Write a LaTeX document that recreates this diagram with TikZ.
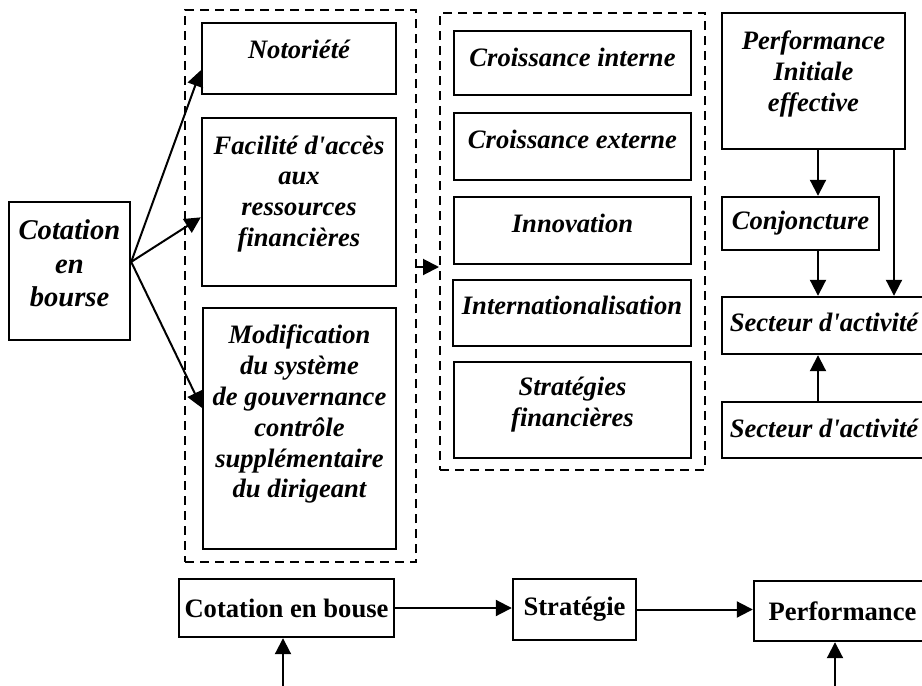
\documentclass[tikz,border=0pt]{standalone}
\usepackage{fontspec}
\setmainfont{Liberation Serif}
\usetikzlibrary{arrows.meta,calc}
\newcommand{\lowpad}[1]{\rule[-#1]{0pt}{#1}}
\newcommand{\apos}{\textquotesingle}
\tikzset{box/.style={draw,line width=1.2pt,inner sep=0pt,align=center,
    font=\bfseries\itshape\fontsize{13.3}{15.4}\selectfont},
  flat/.style={box,font=\bfseries\fontsize{13.3}{15.4}\selectfont},
  grp/.style={draw,line width=1pt,dash pattern=on 4.5pt off 3pt,inner sep=0pt},
  arr/.style={line width=1pt,-{Triangle[length=8pt,width=8pt]}}}

\begin{document}
\begin{tikzpicture}[x=0.5pt,y=-0.5pt]
\useasboundingbox (0,0) rectangle (922,686);
\clip (0,0) rectangle (922,686);
% cadres en pointilles
\node[grp,minimum width=115.5pt,minimum height=276pt] (g1) at (300.5,286) {};
\node[grp,minimum width=132.5pt,minimum height=228.5pt] (g2) at (572.5,241.5) {};
% cotation et effets
\node[box,minimum width=60.5pt,minimum height=69pt,
  font=\bfseries\itshape\fontsize{14.3}{16.75}\selectfont] (cot) at (69.5,271)
  {Cotation\\en\\bourse\lowpad{7.5pt}};
\node[box,minimum width=97pt,minimum height=35.5pt] (noto) at (299,58.5) {Notoriété\lowpad{9pt}};
\node[box,minimum width=97pt,minimum height=84pt] (faci) at (299,202)
  {Facilité d\apos accès\\aux\\ressources\\financières\lowpad{11pt}};
\node[box,minimum width=96.5pt,minimum height=120.5pt] (modi) at (299.5,428.5)
  {Modification\\du système\\de gouvernance\\contrôle\\supplémentaire\\du dirigeant\lowpad{17pt}};
% strategies
\node[box,minimum width=118.5pt,minimum height=32pt] (ci) at (572.5,63) {Croissance interne\lowpad{5.5pt}};
\node[box,minimum width=118.5pt,minimum height=33.5pt] (ce) at (572.5,146.5) {Croissance externe\lowpad{7pt}};
\node[box,minimum width=118.5pt,minimum height=33.5pt] (inn) at (572.5,230.5) {Innovation\lowpad{7pt}};
\node[box,minimum width=119pt,minimum height=33pt] (intl) at (572,313) {Internationalisation\lowpad{7.5pt}};
\node[box,minimum width=118.5pt,minimum height=48pt] (sf) at (572.5,410) {Stratégies\\financières\lowpad{8pt}};
% performance
\node[box,minimum width=91.5pt,minimum height=68pt] (pie) at (813.5,81)
  {Performance\\Initiale\\effective\lowpad{10pt}};
\node[box,minimum width=78.5pt,minimum height=26.5pt] (conj) at (800.5,223.5) {Conjoncture};
\node[box,minimum width=102pt,minimum height=28.5pt] (sa1) at (824,325.5) {Secteur d\apos activité\lowpad{3pt}};
\node[box,minimum width=102pt,minimum height=28pt] (sa2) at (824,430) {Secteur d\apos activité\lowpad{1.5pt}};
% modele simple
\node[flat,minimum width=107.5pt,minimum height=29pt] (bcot) at (286.5,608) {Cotation en bouse};
\node[flat,minimum width=61.5pt,minimum height=30.5pt] (bstr) at (574.5,609.5) {Stratégie};
\node[flat,minimum width=88.5pt,minimum height=30pt] (bperf) at (842.5,611) {Performance};

\coordinate (fan) at ($(cot.north east)!0.435!(cot.south east)$);
\draw[arr] (fan) -- ($(noto.north west)!0.66!(noto.south west)$);
\draw[arr] (fan) -- ($(faci.north west)!0.59!(faci.south west)$);
\draw[arr] (fan) -- ($(modi.north west)!0.415!(modi.south west)$);
\coordinate (mid) at (0,267);
\draw[arr] (g1.east |- mid) -- (g2.west |- mid);
\coordinate (ax) at (818,0);
\coordinate (bx) at (894,0);
\draw[arr] (pie.south -| ax) -- (conj.north -| ax);
\draw[arr] (conj.south -| ax) -- (sa1.north -| ax);
\draw[arr] (pie.south -| bx) -- (sa1.north -| bx);
\draw[arr] (sa2.north -| ax) -- (sa1.south -| ax);
\draw[arr] (bcot.east) -- (bcot.east -| bstr.west);
\draw[arr] (bstr.east) -- (bstr.east -| bperf.west);
\coordinate (u1) at (283,690);
\coordinate (u2) at (835,690);
\draw[arr] (u1) -- (u1 |- bcot.south);
\draw[arr] (u2) -- (u2 |- bperf.south);
\end{tikzpicture}
\end{document}
